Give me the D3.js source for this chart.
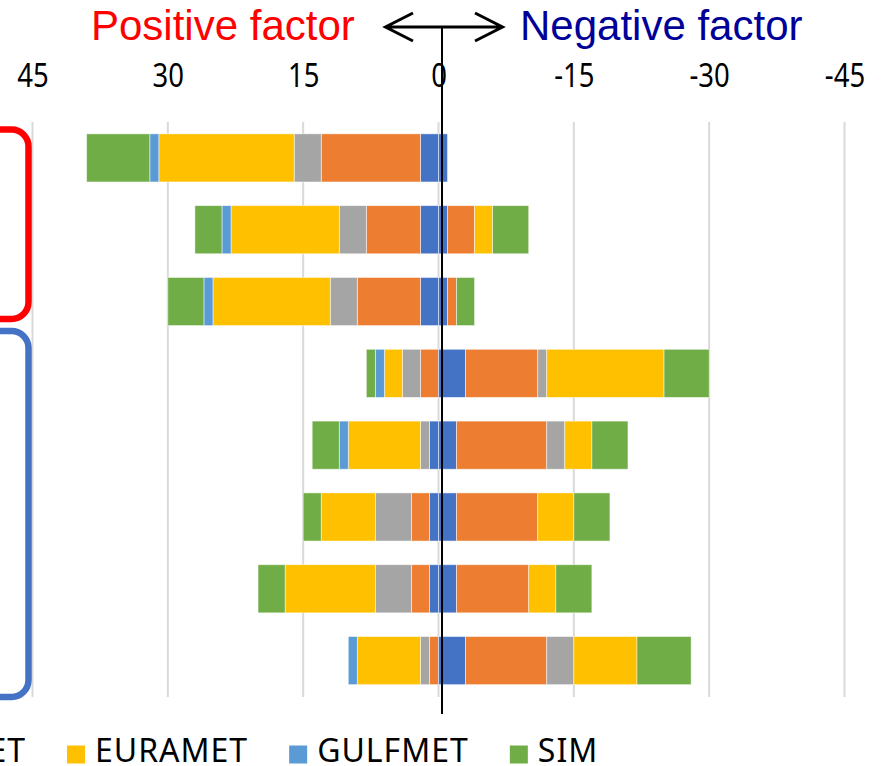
<!DOCTYPE html>
<html>
<head>
<meta charset="utf-8">
<script src="https://cdn.jsdelivr.net/npm/d3@7"></script>
<style>
  html, body { margin: 0; padding: 0; background: #fff; }
  svg { display: block; }
</style>
</head>
<body>
<svg id="chart" width="883" height="766"></svg>
<script>
// ---------------- DATA ----------------
const categories = ["1", "2", "3", "4", "5", "6", "7", "8"];
const seriesNames = ["AFRIMET", "APMP", "COOMET", "EURAMET", "GULFMET", "SIM"];
const seriesColors = ["#4472C4", "#ED7D31", "#A5A5A5", "#FFC000", "#5B9BD5", "#70AD47"];

// positive factors (drawn to the left)
const posAFRIMET = [2, 2, 2, 0, 1, 1, 1, 0];
const posAPMP    = [11, 6, 7, 2, 0, 2, 2, 1];
const posCOOMET  = [3, 3, 3, 2, 1, 4, 4, 1];
const posEURAMET = [15, 12, 13, 2, 8, 6, 10, 7];
const posGULFMET = [1, 1, 1, 1, 1, 0, 0, 1];
const posSIM     = [7, 3, 4, 1, 3, 2, 3, 0];

// negative factors (drawn to the right)
const negAFRIMET = [-1, -1, -1, -3, -2, -2, -2, -3];
const negAPMP    = [0, -3, -1, -8, -10, -9, -8, -9];
const negCOOMET  = [0, 0, 0, -1, -2, 0, 0, -3];
const negEURAMET = [0, -2, 0, -13, -3, -4, -3, -7];
const negGULFMET = [0, 0, 0, 0, 0, 0, 0, 0];
const negSIM     = [0, -4, -2, -5, -4, -4, -4, -6];

const tickValues = [45, 30, 15, 0, -15, -30, -45];
const titleLeft = "Positive factor";
const titleRight = "Negative factor";

// ---------------- BUILD ----------------
const posSeries = [posAFRIMET, posAPMP, posCOOMET, posEURAMET, posGULFMET, posSIM];
const negSeries = [negAFRIMET, negAPMP, negCOOMET, negEURAMET, negGULFMET, negSIM];

const keys = [];
seriesNames.forEach(n => { keys.push("pos_" + n); });
seriesNames.forEach(n => { keys.push("neg_" + n); });

const rows = categories.map((c, i) => {
  const r = { category: c };
  seriesNames.forEach((n, s) => {
    r["pos_" + n] = posSeries[s][i];
    r["neg_" + n] = negSeries[s][i];
  });
  return r;
});

const colorOf = k => seriesColors[seriesNames.indexOf(k.slice(4))];

const stacked = d3.stack().keys(keys).offset(d3.stackOffsetDiverging)(rows);

const svg = d3.select("#chart");
svg.append("rect").attr("width", 883).attr("height", 766).attr("fill", "#fff");

const x = d3.scaleLinear().domain([45, -45]).range([32.5, 844.5]);
const y = d3.scaleBand().domain(categories).range([122, 696.5]).paddingInner(0.33).paddingOuter(0.165);

// gridlines
svg.append("g").selectAll("line").data(tickValues).join("line")
  .attr("x1", d => x(d)).attr("x2", d => x(d))
  .attr("y1", 122).attr("y2", 697)
  .attr("stroke", "#D9D9D9").attr("stroke-width", 2);

// tick labels via axis
const axis = svg.append("g").attr("transform", "translate(0,87)")
  .call(d3.axisTop(x).tickValues(tickValues).tickFormat(d => String(d)).tickSize(0).tickPadding(0));
axis.select(".domain").remove();
axis.selectAll("text")
  .attr("font-family", "'Noto Sans', sans-serif")
  .attr("font-size", 32)
  .attr("fill", "#000")
  .attr("dy", 0)
  .attr("transform", "scale(0.86,1)");

// bars
svg.append("g").selectAll("g").data(stacked).join("g")
  .attr("fill", s => colorOf(s.key))
  .selectAll("rect").data(s => s.filter(d => d[1] !== d[0])).join("rect")
  .attr("x", d => Math.min(x(d[0]), x(d[1])))
  .attr("width", d => Math.abs(x(d[1]) - x(d[0])))
  .attr("y", d => y(d.data.category))
  .attr("height", y.bandwidth())
  .attr("stroke", "#fff").attr("stroke-width", 0.8).attr("stroke-opacity", 0.6);

// group brackets
svg.append("rect").attr("x", -60).attr("y", 129.5).attr("width", 88.5).attr("height", 189.5)
  .attr("rx", 17).attr("ry", 17)
  .attr("fill", "none").attr("stroke", "#FF0000").attr("stroke-width", 6.5);
svg.append("rect").attr("x", -60).attr("y", 331).attr("width", 88.5).attr("height", 366)
  .attr("rx", 17).attr("ry", 17)
  .attr("fill", "none").attr("stroke", "#4472C4").attr("stroke-width", 6.5);

// vertical reference line
svg.append("line").attr("x1", 442).attr("x2", 442).attr("y1", 27).attr("y2", 714)
  .attr("stroke", "#000").attr("stroke-width", 2);

// double arrow
const ay = 27;
svg.append("path")
  .attr("d", `M385,${ay}H503 M413,${ay - 14}L385.5,${ay}L413,${ay + 14} M475,${ay - 14}L502.5,${ay}L475,${ay + 14}`)
  .attr("fill", "none").attr("stroke", "#000").attr("stroke-width", 3)
  .attr("stroke-linejoin", "miter").attr("stroke-linecap", "butt");

// titles
svg.append("text").attr("x", 91).attr("y", 39.5).text(titleLeft)
  .attr("font-family", "'Liberation Sans', Arial, sans-serif").attr("font-size", 42)
  .attr("fill", "#FF0000");
svg.append("text").attr("x", 520).attr("y", 39.5).text(titleRight)
  .attr("font-family", "'Liberation Sans', Arial, sans-serif").attr("font-size", 42)
  .attr("fill", "#000099");

// legend
const legend = svg.append("g");
const items = legend.selectAll("g").data(seriesNames).join("g");
items.append("rect").attr("width", 18).attr("height", 18).attr("y", 745.5)
  .attr("fill", (d, i) => seriesColors[i]);
items.append("text").text(d => d).attr("y", 762)
  .attr("font-family", "'Noto Sans', sans-serif").attr("font-size", 32)
  .attr("letter-spacing", 1).attr("fill", "#000");
const widths = [];
items.select("text").each(function () { widths.push(this.getComputedTextLength()); });
const textGap = 28, itemGap = 41;
const anchorIdx = seriesNames.indexOf("EURAMET");
const sqX = new Array(seriesNames.length);
sqX[anchorIdx] = 67;
for (let i = anchorIdx + 1; i < seriesNames.length; i++) sqX[i] = sqX[i - 1] + textGap + widths[i - 1] + itemGap;
for (let i = anchorIdx - 1; i >= 0; i--) sqX[i] = sqX[i + 1] - itemGap - widths[i] - textGap;
items.select("rect").attr("x", (d, i) => sqX[i]);
items.select("text").attr("x", (d, i) => sqX[i] + textGap);
</script>
</body>
</html>
